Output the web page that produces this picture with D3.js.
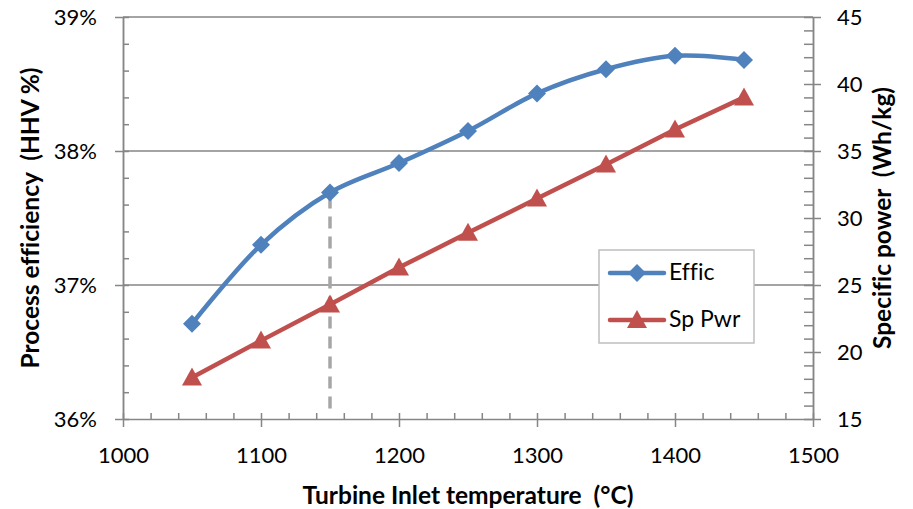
<!DOCTYPE html>
<html>
<head>
<meta charset="utf-8">
<script src="https://cdn.jsdelivr.net/npm/d3@7"></script>
<style>
  body { margin: 0; background: #fff; }
  text { font-family: Lato, "Open Sans", sans-serif; fill: #000; white-space: pre; font-variant-ligatures: none; }
</style>
</head>
<body>
<script>
// data
var temps = [1050, 1100, 1150, 1200, 1250, 1300, 1350, 1400, 1450];
var effic = [36.71, 37.30, 37.69, 37.91, 38.15, 38.43, 38.61, 38.71, 38.68];
var spPwr = [18.1, 20.85, 23.55, 26.3, 28.9, 31.45, 34.0, 36.6, 39.0];
var xTicks = [1000, 1100, 1200, 1300, 1400, 1500];
var yLeftTicks = [36, 37, 38, 39];
var yRightTicks = [15, 20, 25, 30, 35, 40, 45];
var markTemp = 1150;

var margin = { top: 17, right: 100, bottom: 90, left: 123 },
    width = 913 - margin.left - margin.right,
    height = 509 - margin.top - margin.bottom;

var axisColor = "#868686";
var blue = "#4F81BD", red = "#C0504D";

var svg = d3.select("body").append("svg")
    .attr("width", 913)
    .attr("height", 509)
  .append("g")
    .attr("transform", "translate(" + margin.left + "," + margin.top + ")");

var x = d3.scaleLinear().domain([1000, 1500]).range([0, width]);
var yL = d3.scaleLinear().domain([36, 39]).range([height, 0]);
var yR = d3.scaleLinear().domain([15, 45]).range([height, 0]);

// gridlines
svg.selectAll(".grid").data(yLeftTicks.slice(1)).enter().append("line")
    .attr("x1", 0).attr("x2", width)
    .attr("y1", function(d){ return yL(d); }).attr("y2", function(d){ return yL(d); })
    .attr("stroke", axisColor).attr("stroke-width", 1.5);

function styleAxis(g) {
  g.selectAll("path").attr("stroke", axisColor).attr("stroke-width", 1.5);
  g.selectAll("line").attr("stroke", axisColor).attr("stroke-width", 1.5);
  g.selectAll("text").style("font-size", "22px").attr("fill", "#000");
}

// x axis
var gx = svg.append("g").attr("transform", "translate(0," + height + ")")
    .call(d3.axisBottom(x).tickValues(xTicks).tickFormat(d3.format("d")).tickSizeInner(8).tickSizeOuter(0).tickPadding(20));
styleAxis(gx);
gx.select(".domain").remove();
svg.append("g").attr("transform", "translate(0," + height + ")")
    .call(d3.axisBottom(x).ticks(25).tickSizeInner(-6).tickSizeOuter(0).tickFormat(""))
    .call(styleAxis);

// left axis
var gl = svg.append("g")
    .call(d3.axisLeft(yL).tickValues(yLeftTicks).tickFormat(function(d){ return d + "%"; }).tickSizeInner(8).tickSizeOuter(0).tickPadding(18));
styleAxis(gl);
svg.append("g")
    .call(d3.axisLeft(yL).ticks(15).tickSizeInner(-6).tickSizeOuter(0).tickFormat(""))
    .call(styleAxis);

// right axis
var gr = svg.append("g").attr("transform", "translate(" + width + ",0)")
    .call(d3.axisRight(yR).tickValues(yRightTicks).tickSizeInner(8).tickSizeOuter(0).tickPadding(16));
styleAxis(gr);
svg.append("g").attr("transform", "translate(" + width + ",0)")
    .call(d3.axisRight(yR).ticks(30).tickSizeInner(-9).tickSizeOuter(0).tickFormat(""))
    .call(styleAxis);

// dashed marker line
var mi = temps.indexOf(markTemp);
svg.append("line")
    .attr("x1", x(markTemp)).attr("x2", x(markTemp))
    .attr("y1", yL(effic[mi]) + 4).attr("y2", height - 8)
    .attr("stroke", "#A6A6A6").attr("stroke-width", 3.5).attr("stroke-dasharray", "12,8");

// lines
var effLine = d3.line()
    .x(function(d, i){ return x(temps[i]); })
    .y(function(d){ return yL(d); })
    .curve(d3.curveCatmullRom.alpha(0.5));
var pwrLine = d3.line()
    .x(function(d, i){ return x(temps[i]); })
    .y(function(d){ return yR(d); });

svg.append("path").attr("d", pwrLine(spPwr))
    .attr("fill", "none").attr("stroke", red).attr("stroke-width", 4.5);
svg.append("path").attr("d", effLine(effic))
    .attr("fill", "none").attr("stroke", blue).attr("stroke-width", 4.5);

var diamond = "M0,-9L9,0L0,9L-9,0Z";
var triangle = "M0,-10L10,8L-10,8Z";

svg.selectAll(".pm").data(spPwr).enter().append("path")
    .attr("d", triangle).attr("fill", red)
    .attr("transform", function(d, i){ return "translate(" + x(temps[i]) + "," + yR(d) + ")"; });
svg.selectAll(".em").data(effic).enter().append("path")
    .attr("d", diamond).attr("fill", blue)
    .attr("transform", function(d, i){ return "translate(" + x(temps[i]) + "," + yL(d) + ")"; });

// legend
var lg = svg.append("g").attr("transform", "translate(" + (599 - margin.left) + "," + (250 - margin.top) + ")");
lg.append("rect").attr("width", 155).attr("height", 93)
    .attr("fill", "#fff").attr("stroke", "#BFBFBF").attr("stroke-width", 1.5);
var items = [{ name: "Effic", color: blue, shape: diamond, y: 23 },
             { name: "Sp Pwr", color: red, shape: triangle, y: 70 }];
items.forEach(function(it){
  lg.append("line").attr("x1", 11).attr("x2", 65).attr("y1", it.y).attr("y2", it.y)
      .attr("stroke", it.color).attr("stroke-width", 4.5).attr("stroke-linecap", "round");
  lg.append("path").attr("d", it.shape).attr("fill", it.color)
      .attr("transform", "translate(38," + it.y + ")");
  lg.append("text").attr("x", 70).attr("y", it.y + 7).style("font-size", "23px").text(it.name);
});

// axis titles
svg.append("text").attr("text-anchor", "middle").style("font-size", "24.5px").style("font-weight", "bold")
    .attr("transform", "translate(" + (-margin.left + 39) + "," + (height / 2) + ")rotate(-90)")
    .text("Process efficiency  (HHV %)");
svg.append("text").attr("text-anchor", "middle").style("font-size", "24.5px").style("font-weight", "bold")
    .attr("transform", "translate(" + (width + 78) + "," + (height / 2) + ")rotate(-90)")
    .text("Specific power  (Wh/kg)");
svg.append("text").attr("text-anchor", "middle").style("font-size", "24.5px").style("font-weight", "bold")
    .attr("x", width / 2).attr("y", height + 85)
    .text("Turbine Inlet temperature  (°C)");
</script>
</body>
</html>
